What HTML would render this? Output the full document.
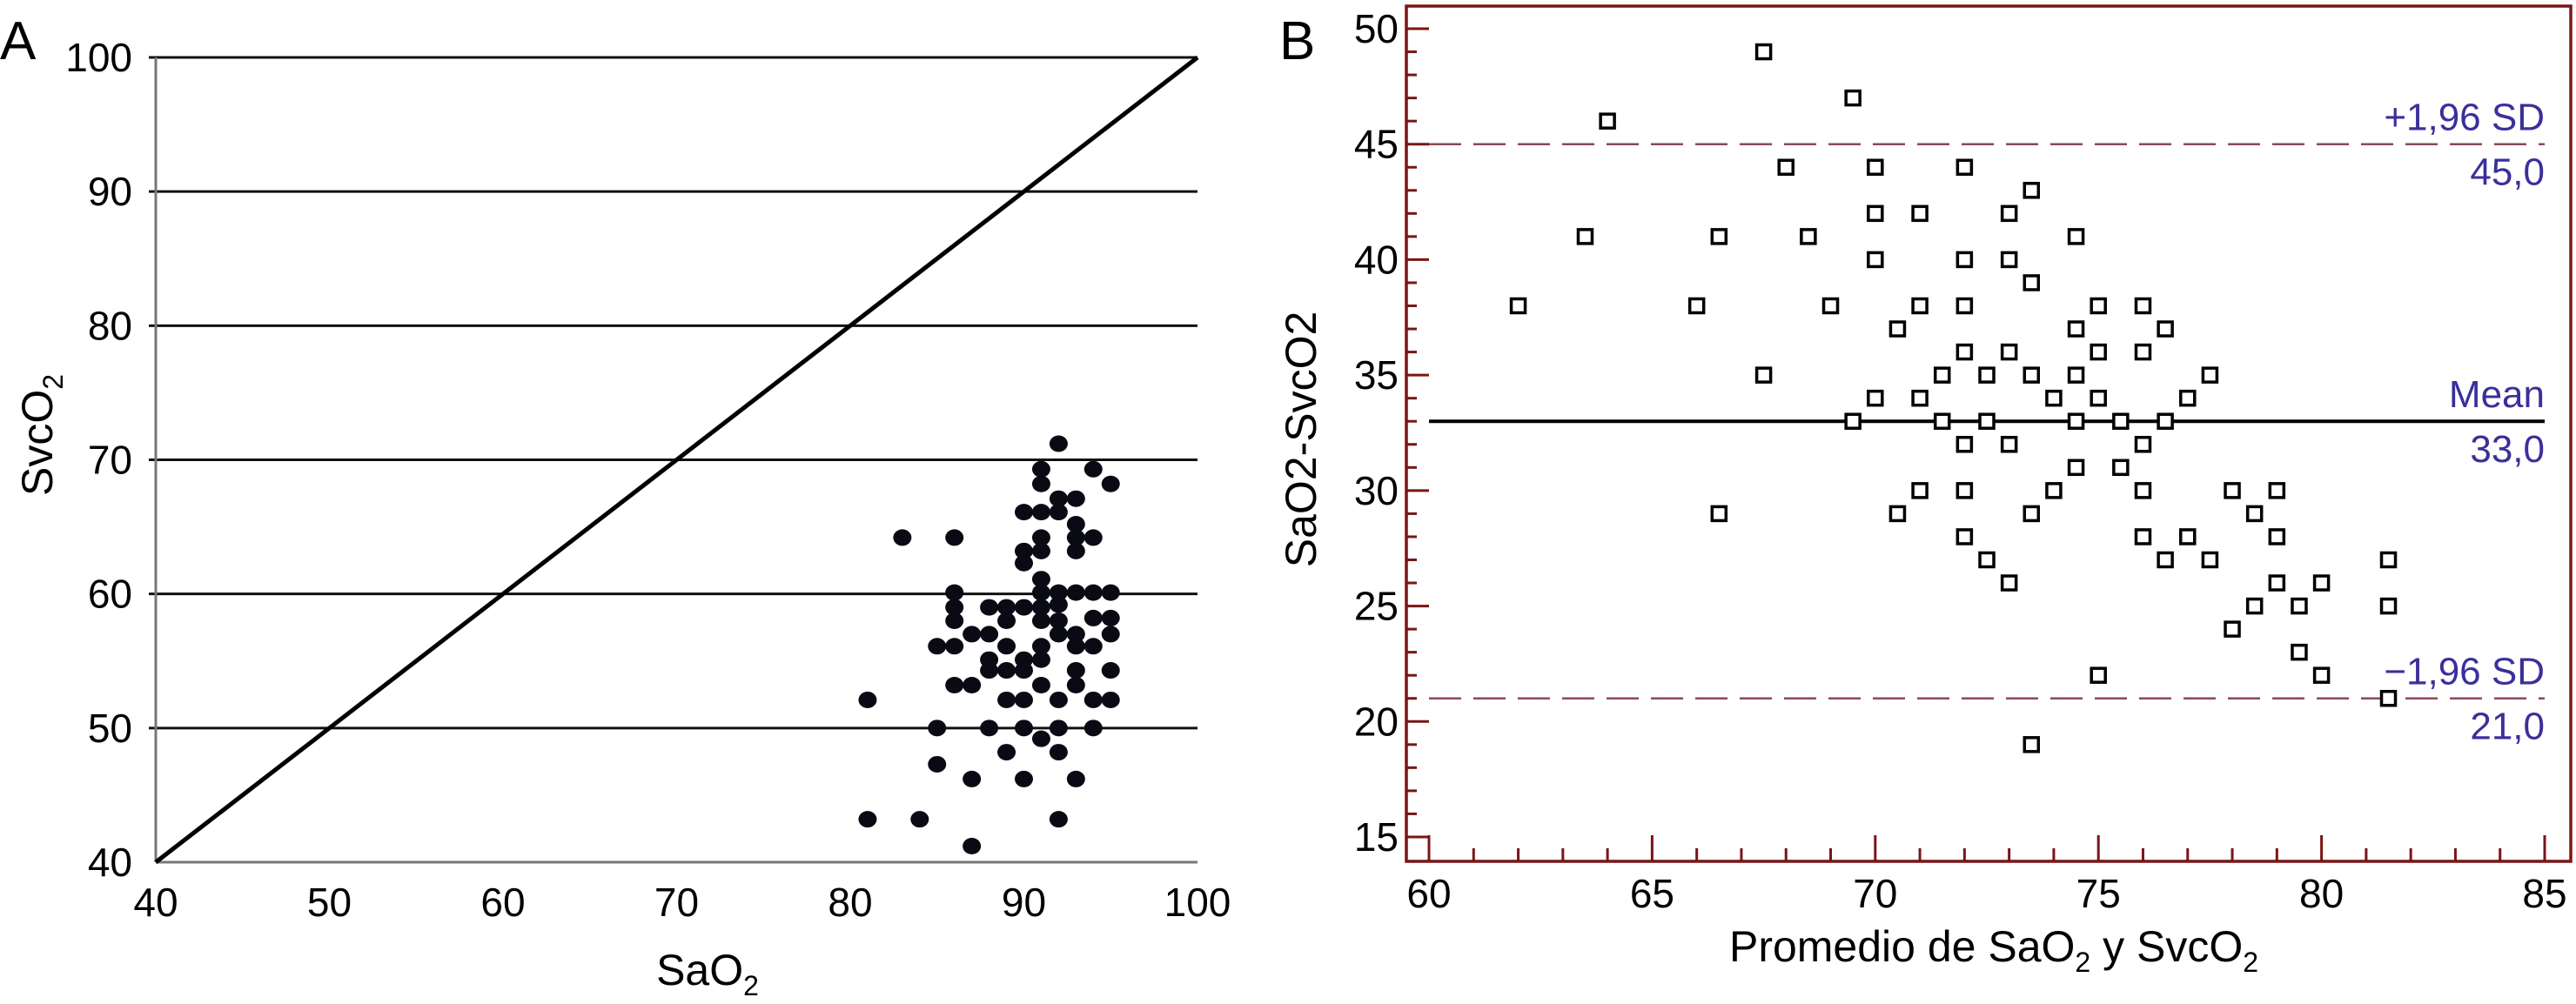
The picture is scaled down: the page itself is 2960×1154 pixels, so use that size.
<!DOCTYPE html>
<html><head><meta charset="utf-8">
<style>
html,body{margin:0;padding:0;background:#fff;}
svg{display:block;}
.t{font-family:"Liberation Sans Narrow","Liberation Sans",sans-serif;}
.s{font-family:"Liberation Sans",sans-serif;}
</style></head>
<body>
<svg id="fig" width="2960" height="1154" viewBox="0 0 2960 1154" xmlns="http://www.w3.org/2000/svg">
<g id="pa"></g>
<g id="pb"></g>
</svg>
<script>
// Panel A data
const aTicksX = [40,50,60,70,80,90,100];
const aTicksY = [40,50,60,70,80,90,100];
const aSaO2 = [81,81,83,84,86,85,86,86,86,86,86,85,85,87,87,87,87,88,88,88,88,88,89,89,89,89,89,89,90,90,90,90,90,90,90,90,90,91,91,91,91,91,91,91,91,91,91,91,91,91,92,92,92,92,92,92,92,92,92,92,92,93,93,93,93,93,93,93,93,93,93,94,94,94,94,94,94,94,95,95,95,95,95,95];
const aSvcO2 = [52.1,43.2,64.2,43.2,64.2,56.1,56.1,60.1,59,58,53.2,50,47.3,57,53.2,46.2,41.2,59,57,55.1,54.3,50,59,58,56.1,54.3,52.1,48.2,59,66.1,63.2,62.3,55.1,54.3,52.1,50,46.2,69.3,68.2,66.1,64.2,63.2,61.1,60.1,59,58,56.1,55.1,53.2,49.2,71.2,67.1,66.1,60.1,59.2,58,57,52.1,50,48.2,43.2,67.1,65.2,64.2,63.2,60.1,57,56.1,54.3,53.2,46.2,69.3,64.2,60.1,58.2,56.1,52.1,50,68.2,60.1,58.2,57,54.3,52.1];
// Panel B data
const bTicksX = [60,65,70,75,80,85];
const bTicksY = [15,20,25,30,35,40,45,50];
const bMean = [67.5,69.5,64,68,70,72,73.5,70,71,73,63.5,66.5,68.5,74.5,70,72,73,73.5,62,66,69,71,72,75,76,70.5,74.5,76.5,72,73,75,76,67.5,71.5,72.5,73.5,74.5,77.5,70,71,74,75,77,69.5,71.5,72.5,74.5,75.5,76.5,72,73,76,74.5,75.5,71,72,74,76,78,79,66.5,70.5,73.5,78.5,72,76,77,79,72.5,76.5,77.5,81.5,73,79,80,78.5,79.5,81.5,78,79.5,75,80,81.5,73.5];
const bDiff = [49,47,46,44,44,44,43,42,42,42,41,41,41,41,40,40,40,39,38,38,38,38,38,38,38,37,37,37,36,36,36,36,35,35,35,35,35,35,34,34,34,34,34,33,33,33,33,33,33,32,32,32,31,31,30,30,30,30,30,30,29,29,29,29,28,28,28,28,27,27,27,27,26,26,26,25,25,25,24,23,22,22,21,19];
const bLines = [45,33,21];
const bLineLabels = [["+1,96 SD","45,0"],["Mean","33,0"],["\u22121,96 SD","21,0"]];

const NS="http://www.w3.org/2000/svg";
function mk(parent,tag,attrs,txt){const e=document.createElementNS(NS,tag);for(const k in attrs)e.setAttribute(k,attrs[k]);if(txt!==undefined)e.textContent=txt;parent.appendChild(e);return e;}

// ---------- Panel A ----------
const pa=document.getElementById('pa');
const ax=v=>179+(v-40)*(1376-179)/60;
const ay=v=>991-(v-40)*(991-66)/60;
let e;
aTicksY.forEach(v=>{
  if(v>40){e=mk(pa,'line',{x1:ax(40)-8,x2:ax(100),y1:ay(v),y2:ay(v),stroke:'#111','stroke-width':3});
  
  }
  e=mk(pa,'text',{x:152,y:ay(v)+16,'text-anchor':'end','font-size':46,class:'t'},String(v));
  
  
});
e=mk(pa,'line',{x1:ax(40),x2:ax(40),y1:ay(100),y2:ay(40),stroke:'#777','stroke-width':3});


e=mk(pa,'line',{x1:ax(40),x2:ax(100),y1:ay(40),y2:ay(40),stroke:'#777','stroke-width':3});


aTicksX.forEach(v=>{
  e=mk(pa,'text',{x:ax(v),y:1053,'text-anchor':'middle','font-size':46,class:'t'},String(v));
  
  
});
e=mk(pa,'line',{x1:ax(40),y1:ay(40),x2:ax(100),y2:ay(100),stroke:'#000','stroke-width':5});


aSaO2.forEach((x,i)=>{
  e=mk(pa,'ellipse',{cx:ax(x),cy:ay(aSvcO2[i]),rx:10.5,ry:9.5,fill:'#0a0a14'});
  
  
});
e=mk(pa,'text',{x:0,y:68,'font-size':62,class:'t'},'A');


e=mk(pa,'text',{x:813,y:1132,'text-anchor':'middle','font-size':50,class:'s'});


e.innerHTML='SaO<tspan font-size="32" dy="12">2</tspan>';
e=mk(pa,'text',{x:0,y:0,'text-anchor':'middle','font-size':50,class:'s',transform:'translate(60,500) rotate(-90)'});


e.innerHTML='SvcO<tspan font-size="32" dy="12">2</tspan>';

// ---------- Panel B ----------
const pb=document.getElementById('pb');
const bx=v=>1642+(v-60)*(2924-1642)/25;
const by=v=>33+(50-v)*(962-33)/35;
const red='#7a1515';
e=mk(pb,'rect',{x:1616,y:7,width:1338,height:983,fill:'none',stroke:red,'stroke-width':3.5});


for(let v=15;v<=50;v++){
  const major=v%5===0;
  e=mk(pb,'line',{x1:1616,x2:1616+(major?26:12),y1:by(v),y2:by(v),stroke:red,'stroke-width':3});
  
  
}
for(let v=60;v<=85;v++){
  const major=v%5===0;
  e=mk(pb,'line',{x1:bx(v),x2:bx(v),y1:990,y2:990-(major?30:15),stroke:red,'stroke-width':3});
  
  
}
e=mk(pb,'line',{x1:1616,x2:bx(60),y1:by(15),y2:by(15),stroke:red,'stroke-width':3});


bTicksY.forEach(v=>{
  e=mk(pb,'text',{x:1607,y:by(v)+16,'text-anchor':'end','font-size':46,class:'t'},String(v));
  
  
});
bTicksX.forEach(v=>{
  e=mk(pb,'text',{x:bx(v),y:1043,'text-anchor':'middle','font-size':46,class:'t'},String(v));
  
  
});
bLines.forEach((v,i)=>{
  const mean=i===1;
  e=mk(pb,'line',{x1:bx(60),x2:bx(85),y1:by(v),y2:by(v),stroke:mean?'#000':'#8a4a58','stroke-width':mean?4:2.5,'stroke-dasharray':mean?'none':'37 14'});
  
  
  e=mk(pb,'text',{x:bx(85),y:by(v)-16,'text-anchor':'end','font-size':44,fill:'#3b2f9a',class:'t'},bLineLabels[i][0]);
  
  
  e=mk(pb,'text',{x:bx(85),y:by(v)+47,'text-anchor':'end','font-size':44,fill:'#3b2f9a',class:'t'},bLineLabels[i][1]);
  
  
});
bMean.forEach((x,i)=>{
  e=mk(pb,'rect',{x:bx(x)-8,y:by(bDiff[i])-8,width:16,height:16,fill:'#fff',stroke:'#000','stroke-width':3.5});
  
  
});
e=mk(pb,'text',{x:1470,y:68,'font-size':62,class:'t'},'B');


e=mk(pb,'text',{x:2291,y:1105,'text-anchor':'middle','font-size':50,class:'t'});


e.innerHTML='Promedio de SaO<tspan font-size="32" dy="12">2</tspan><tspan dy="-12"> y SvcO</tspan><tspan font-size="32" dy="12">2</tspan>';
e=mk(pb,'text',{x:0,y:0,'text-anchor':'middle','font-size':50,class:'s',transform:'translate(1512,505) rotate(-90)'},'SaO2-SvcO2');


</script>
</body></html>
